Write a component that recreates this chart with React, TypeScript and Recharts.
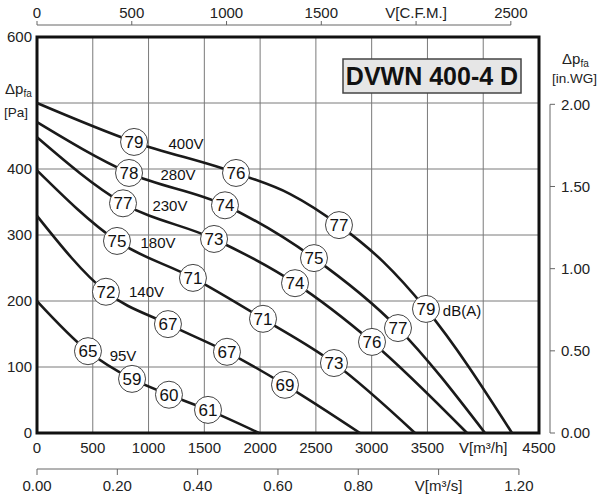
import React from 'react'
import {
  ComposedChart,
  Line,
  Scatter,
  XAxis,
  YAxis,
  CartesianGrid,
  ReferenceArea,
} from 'recharts'

// fan curves, flow q [m³/h], pressure p [Pa], db = sound level marker
const curve400V = [
  { q: 0, p: 500 },
  { q: 870, p: 441, db: 79 },
  { q: 1784, p: 394, db: 76 },
  { q: 2270, p: 362 },
  { q: 2707, p: 315, db: 77 },
  { q: 3100, p: 260 },
  { q: 3487, p: 188, db: 79 },
  { q: 4258, p: 0 },
]
const curve280V = [
  { q: 0, p: 471 },
  { q: 825, p: 394, db: 78 },
  { q: 1685, p: 345, db: 74 },
  { q: 2483, p: 265, db: 75 },
  { q: 3236, p: 159, db: 77 },
  { q: 4016, p: 0 },
]
const curve230V = [
  { q: 0, p: 448 },
  { q: 771, p: 348, db: 77 },
  { q: 1587, p: 294, db: 73 },
  { q: 2313, p: 227, db: 74 },
  { q: 3003, p: 138, db: 76 },
  { q: 3855, p: 0 },
]
const curve180V = [
  { q: 0, p: 398 },
  { q: 717, p: 291, db: 75 },
  { q: 1398, p: 235, db: 71 },
  { q: 2026, p: 173, db: 71 },
  { q: 2662, p: 106, db: 73 },
  { q: 3388, p: 0 },
]
const curve140V = [
  { q: 0, p: 329 },
  { q: 618, p: 214, db: 72 },
  { q: 1174, p: 165, db: 67 },
  { q: 1703, p: 123, db: 67 },
  { q: 2223, p: 73, db: 69 },
  { q: 2895, p: 0 },
]
const curve95V = [
  { q: 0, p: 200 },
  { q: 457, p: 124, db: 65 },
  { q: 852, p: 82, db: 59 },
  { q: 1183, p: 58, db: 60 },
  { q: 1533, p: 35, db: 61 },
  { q: 1990, p: 0 },
]
const curves = [curve400V, curve280V, curve230V, curve180V, curve140V, curve95V]

// text labels anchored in data space
const curveLabels = [
  { q: 1336, p: 439, text: '400V' },
  { q: 1264, p: 391, text: '280V' },
  { q: 1192, p: 345, text: '230V' },
  { q: 1085, p: 288, text: '180V' },
  { q: 982, p: 214, text: '140V' },
  { q: 771, p: 117, text: '95V' },
  { q: 3810, p: 186, text: 'dB(A)' },
]

const flowTicks = [0, 500, 1000, 1500, 2000, 2500, 3000, 3500, 4000, 4500]
const paTicks = [0, 100, 200, 300, 400, 500, 600]
const cfmTicks = [0, 500, 1000, 1500, 2000, 2500]
const m3sTicks = [0, 0.2, 0.4, 0.6, 0.8, 1.0, 1.2]
const inwgTicks = [0, 0.5, 1, 1.5, 2]

const flowName = { at: 4000, text: 'V[m³/h]' }
const paHidden = 500 // the unit label sits there instead
const cfmName = { at: 2000, text: 'V[C.F.M.]' }
const m3sName = { at: 1.0, text: 'V[m³/s]' }
const title = 'DVWN 400-4 D'

// unit conversions
const M3H_PER_CFM = 1.699
const M3H_PER_M3S = 3600
const PA_PER_INWG = 249

// layout
const W = 600
const H = 500
const PL = 37
const PR = 539
const PT = 37
const PB = 433
const X_MAX = 4500
const Y_MAX = 600
const pxPerM3h = (PR - PL) / X_MAX
const pxPerPa = (PB - PT) / Y_MAX

const FONT = '"Liberation Sans", Arial, sans-serif'
const tickStyle = { fontSize: 15, fill: '#222' }
const axisGray = '#666'

const renderDot = (props: any) => {
  const { cx, cy, payload, index } = props
  if (payload.db == null) return <g key={`d${index}`} />
  return (
    <g key={`d${index}`}>
      <circle cx={cx} cy={cy} r={13.5} fill="#fff" stroke="#444" strokeWidth={1} />
      <text x={cx} y={cy} dy="0.36em" textAnchor="middle" fontSize={17} fill="#111">
        {payload.db}
      </text>
    </g>
  )
}

const renderLabel = (props: any) => {
  const { cx, cy, payload } = props
  return (
    <text x={cx} y={cy} dy="0.36em" textAnchor="middle" fontSize={15} fill="#111">
      {payload.text}
    </text>
  )
}

const MainChart = () => (
  <ComposedChart
    width={W}
    height={H}
    margin={{ top: PT, right: W - PR, bottom: 0, left: 0 }}
  >
    <CartesianGrid stroke="#7a7a7a" strokeWidth={1} />
    <XAxis
      type="number"
      dataKey="q"
      domain={[0, X_MAX]}
      ticks={flowTicks}
      interval={0}
      height={H - PB}
      tickLine={false}
      axisLine={false}
      tickSize={0}
      tickMargin={9}
      tick={tickStyle}
      tickFormatter={(v: number) => (v === flowName.at ? flowName.text : String(v))}
    />
    <YAxis
      type="number"
      dataKey="p"
      domain={[0, Y_MAX]}
      ticks={paTicks}
      interval={0}
      width={PL}
      tickLine={false}
      axisLine={false}
      tickSize={0}
      tickMargin={5}
      tick={tickStyle}
      tickFormatter={(v: number) => (v === paHidden ? '' : String(v))}
    />
    <ReferenceArea
      x1={0}
      x2={X_MAX}
      y1={0}
      y2={Y_MAX}
      fill="#fff"
      fillOpacity={0}
      stroke="#111"
      strokeWidth={3}
    />
    {curves.map((c, i) => (
      <Line
        key={i}
        data={c}
        dataKey="p"
        type="monotone"
        stroke="#1a1a1a"
        strokeWidth={2.6}
        dot={renderDot}
        activeDot={false}
        isAnimationActive={false}
      />
    ))}
    <Scatter data={curveLabels} dataKey="p" shape={renderLabel} isAnimationActive={false} />
  </ComposedChart>
)

// extra unit axes, each its own small chart so the axis line spans only its range
const cfmSpan = cfmTicks[cfmTicks.length - 1] * M3H_PER_CFM * pxPerM3h
const m3sSpan = m3sTicks[m3sTicks.length - 1] * M3H_PER_M3S * pxPerM3h
const inwgTop = PB - inwgTicks[inwgTicks.length - 1] * PA_PER_INWG * pxPerPa

const cfmData = cfmTicks.map((v) => ({ v, o: 0 }))
const m3sData = m3sTicks.map((v) => ({ v, o: 0 }))
const inwgData = inwgTicks.map((v) => ({ v, o: 0 }))

const layer: React.CSSProperties = { position: 'absolute', left: 0, top: 0, pointerEvents: 'none' }

const TopAxis = () => (
  <div style={layer}>
    <ComposedChart data={cfmData} width={W} height={60} margin={{ top: 0, left: PL, right: W - PL - cfmSpan, bottom: 0 }}>
      <XAxis
        type="number"
        dataKey="v"
        orientation="top"
        domain={[0, 2500]}
        ticks={cfmTicks}
        interval={0}
        height={25}
        tickSize={4}
        tickMargin={3}
        stroke={axisGray}
        tick={tickStyle}
        tickFormatter={(v: number) => (v === cfmName.at ? cfmName.text : String(v))}
      />
      <YAxis hide dataKey="o" domain={[0, 1]} />
      <Line dataKey="o" stroke="none" dot={false} activeDot={false} isAnimationActive={false} />
    </ComposedChart>
  </div>
)

const BottomAxis = () => (
  <div style={layer}>
    <ComposedChart data={m3sData} width={W} height={H} margin={{ top: 400, left: PL, right: W - PL - m3sSpan, bottom: 0 }}>
      <XAxis
        type="number"
        dataKey="v"
        domain={[0, 1.2]}
        ticks={m3sTicks}
        interval={0}
        height={31}
        tickSize={6}
        tickMargin={5}
        stroke={axisGray}
        tick={tickStyle}
        tickFormatter={(v: number) => (Math.abs(v - m3sName.at) < 1e-9 ? m3sName.text : v.toFixed(2))}
      />
      <YAxis hide dataKey="o" domain={[0, 1]} />
      <Line dataKey="o" stroke="none" dot={false} activeDot={false} isAnimationActive={false} />
    </ComposedChart>
  </div>
)

const RightAxis = () => (
  <div style={layer}>
    <ComposedChart
      data={inwgData}
      layout="horizontal"
      width={W}
      height={H}
      margin={{ top: inwgTop, left: 450, right: 0, bottom: H - PB }}
    >
      <XAxis hide type="number" dataKey="o" domain={[0, 1]} />
      <YAxis
        type="number"
        dataKey="v"
        orientation="right"
        domain={[0, 2]}
        ticks={inwgTicks}
        interval={0}
        width={W - 550}
        tickSize={5}
        tickMargin={6}
        stroke={axisGray}
        tick={tickStyle}
        tickFormatter={(v: number) => v.toFixed(2)}
      />
      <Line dataKey="v" stroke="none" dot={false} activeDot={false} isAnimationActive={false} />
    </ComposedChart>
  </div>
)

const Annotations = () => (
  <svg style={layer} width={W} height={H}>
    <text x={5} y={94} fontSize={15} fill="#222">
      Δp<tspan fontSize={10} dy={3}>fa</tspan>
    </text>
    <text x={4} y={117} fontSize={13.5} fill="#222">[Pa]</text>
    <text x={562} y={64} fontSize={15} fill="#222">
      Δp<tspan fontSize={10} dy={3}>fa</tspan>
    </text>
    <text x={552} y={83} fontSize={13.5} fill="#222">[in.WG]</text>
    <rect x={343} y={59} width={178} height={34} fill="#e6e6e6" stroke="#444" strokeWidth={1.5} />
    <text x={432} y={85} textAnchor="middle" fontSize={25} fontWeight="bold" fill="#111">
      {title}
    </text>
  </svg>
)

export default function App() {
  return (
    <div style={{ position: 'absolute', left: 0, top: 0, width: W, height: H, fontFamily: FONT, background: '#fff' }}>
      <MainChart />
      <TopAxis />
      <BottomAxis />
      <RightAxis />
      <Annotations />
    </div>
  )
}
